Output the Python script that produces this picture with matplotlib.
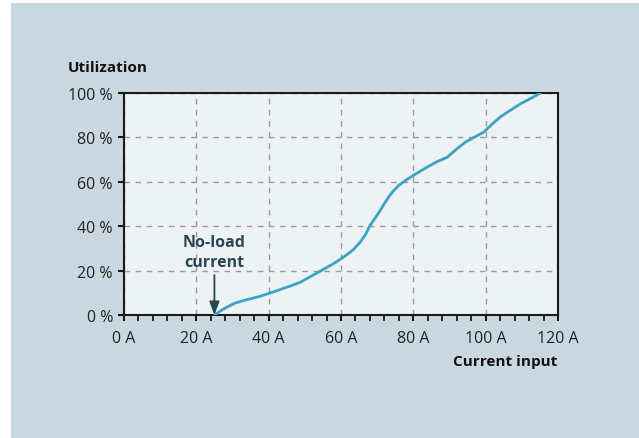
import matplotlib
matplotlib.use("Agg")
import matplotlib.pyplot as plt
from matplotlib.patches import Rectangle
from matplotlib.ticker import MultipleLocator, FixedLocator, FixedFormatter

# Data
current_a = [25.0, 27.5, 30.7, 33.9, 37.6, 40.4, 45.0, 48.7, 54.2, 58.0, 60.0, 62.0, 63.5, 65.3,
             66.8, 68.0, 69.5, 70.8, 72.0, 73.1, 74.5, 75.9, 78.0, 80.0, 83.8, 86.5, 89.4,
             92.0, 94.4, 97.0, 99.5, 102.0, 104.2, 107.0, 109.7, 112.5, 115.1]
utilization_pct = [0.0, 2.7, 5.4, 6.9, 8.4, 9.9, 12.5, 14.7, 19.7, 23.2, 25.3, 27.6, 29.6, 32.8,
                   36.3, 40.3, 43.8, 47.0, 50.2, 53.0, 55.9, 58.3, 60.8, 62.9, 66.6, 69.0, 71.1,
                   74.8, 77.9, 80.2, 82.4, 86.3, 89.4, 92.4, 95.2, 97.6, 100.0]
x_ticks = [0, 20, 40, 60, 80, 100, 120]
x_tick_labels = ["0 A", "20 A", "40 A", "60 A", "80 A", "100 A", "120 A"]
y_ticks = [0, 20, 40, 60, 80, 100]
y_tick_labels = ["0 %", "20 %", "40 %", "60 %", "80 %", "100 %"]
no_load_current = 25.0

plt.rcParams['font.family'] = ['Open Sans', 'DejaVu Sans']

W, H = 639, 439
fig = plt.figure(figsize=(W / 100, H / 100), dpi=100, facecolor="white")
fig.patches.append(Rectangle((11 / W, 0), 1 - 11 / W, 1 - 4 / H, transform=fig.transFigure,
                             facecolor="#c9d7e0", edgecolor="none", zorder=-10))

ax = fig.add_axes([124 / W, 1 - 316 / H, (558 - 124) / W, (316 - 94) / H])
ax.set_facecolor("#edf2f5")
ax.set_xlim(0, 120)
ax.set_ylim(0, 100)

ax.xaxis.set_major_locator(FixedLocator(x_ticks))
ax.xaxis.set_major_formatter(FixedFormatter(x_tick_labels))
ax.xaxis.set_minor_locator(MultipleLocator(4))
ax.yaxis.set_major_locator(FixedLocator(y_ticks))
ax.yaxis.set_major_formatter(FixedFormatter(y_tick_labels))

for s in ax.spines.values():
    s.set_linewidth(1.5)
    s.set_color("#1a1a1a")

ax.tick_params(axis="both", which="major", direction="out", length=4, width=1.5,
               color="#1a1a1a", labelsize=11.5, labelcolor="#222222")
ax.tick_params(axis="x", which="major", pad=7)
ax.tick_params(axis="y", which="major", pad=4)
ax.tick_params(axis="x", which="minor", direction="out", length=4, width=1.3, color="#1a1a1a")

ax.grid(True, which="major", linestyle=(0, (4, 4)), color="#9a9a9a", linewidth=1)
ax.set_axisbelow(True)

ax.plot(current_a, utilization_pct, color="#3ba3c4", linewidth=2, solid_capstyle="round",
        solid_joinstyle="round", zorder=3)

ax.annotate("", xy=(no_load_current, 0), xytext=(no_load_current, 18),
            arrowprops=dict(arrowstyle="-|>,head_length=0.8,head_width=0.3", color="#2a4655",
                            lw=1.3, shrinkA=0, shrinkB=0), zorder=4)
ax.text(no_load_current, 28.5, "No-load\ncurrent", ha="center", va="center", fontsize=11.5,
        fontweight="bold", color="#2a4655", linespacing=1.3)

fig.text(68 / W, 1 - 68 / H, "Utilization", ha="left", va="center", fontsize=11,
         fontweight="bold", color="#111111")
fig.text(557 / W, 1 - 362 / H, "Current input", ha="right", va="center", fontsize=11,
         fontweight="bold", color="#111111")

fig.savefig("out.png", dpi=100, facecolor=fig.get_facecolor())
